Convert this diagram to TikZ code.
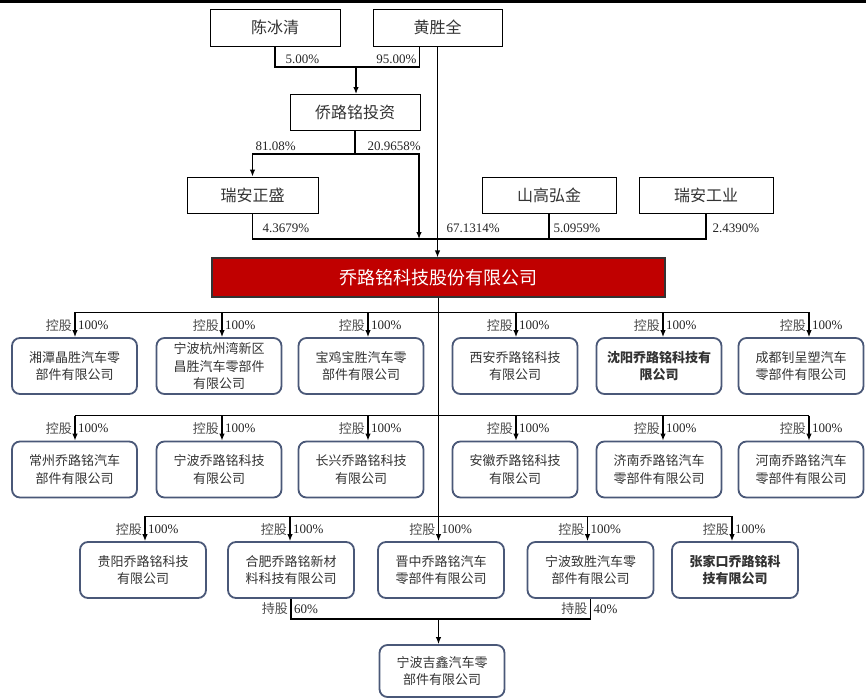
\documentclass[tikz,border=0pt]{standalone}
\usepackage{fontspec}
\setmainfont{Liberation Serif}
\newfontfamily\cjk{Noto Sans CJK SC}
\usetikzlibrary{arrows.meta,calc}
\definecolor{boxline}{HTML}{4A5878}
\definecolor{mainred}{HTML}{C00000}
\definecolor{txtgray}{HTML}{333333}

\begin{document}
\begin{tikzpicture}[x=1pt,y=-1pt,>={Latex[length=7pt,width=5.5pt]},line width=1.2pt,
        holder/.style={draw=black,line width=1pt,fill=white,minimum width=130pt,minimum height=37pt,
            font=\cjk\fontsize{16}{18}\selectfont,text=txtgray},
        mainbox/.style={draw=black!80,line width=1.2pt,fill=mainred,minimum width=453pt,minimum height=39pt,
            font=\cjk\fontsize{18}{20}\selectfont,text=white},
        subbox/.style={draw=boxline,line width=1.8pt,fill=white,rounded corners=8pt,minimum width=125pt,
            minimum height=56pt,align=center,font=\cjk\fontsize{13}{17.5}\selectfont,text=txtgray},
        pct/.style={inner sep=0pt,font=\fontsize{13}{15}\selectfont,text=black!85},
        cjklab/.style={inner sep=0pt,font=\cjk\fontsize{13}{15}\selectfont,text=black!70}]
        \fill [white] (0,0) rectangle (866,699);
        \useasboundingbox (0,0) rectangle (866,699);
        \fill [black] (0,0) rectangle (866,3);

        \node [holder] (chen) at (275,27.5) {陈冰清};
        \node [holder,minimum width=129pt] (huang) at (437.5,27.5) {黄胜全};
        \node [holder,minimum height=36pt] (qlm) at (355,112.5) {侨路铭投资};
        \node [holder,minimum width=131pt,minimum height=36pt] (razs) at (252.5,195) {瑞安正盛};
        \node [holder,minimum width=134pt,minimum height=36pt] (shgj) at (549,195) {山高弘金};
        \node [holder,minimum width=134pt,minimum height=36pt] (ragy) at (706,195) {瑞安工业};
        \node [mainbox] (main) at (438.5,277.5) {乔路铭科技股份有限公司};

        \coordinate (t1) at (356,67);
        \coordinate (t2) at (355,154);
        \coordinate (t3) at (419,239);
        \draw (chen.south) |- (t1) -| ([xshift=-18pt]huang.south);
        \draw [->] (t1) -- (t1 |- qlm.north);
        \draw (qlm.south) -- (t2);
        \draw [->] (t2) -| (razs.north);
        \draw [->] (t2) -| (t3);
        \draw (razs.south) |- (ragy.south |- t3) -- (ragy.south);
        \draw (shgj.south) -- (shgj.south |- t3);
        \draw [->] (huang.south) -- (huang.south |- main.north);

        \node [pct,anchor=west] (p1) at (285,59) {5.00\%};
        \node [pct,anchor=east] (p2) at (417,59) {95.00\%};
        \node [pct,anchor=west] (p3) at (255,146) {81.08\%};
        \node [pct,anchor=west] (p4) at (367,146) {20.9658\%};
        \node [pct,anchor=west] (p5) at (262,228) {4.3679\%};
        \node [pct,anchor=west] (p6) at (446,228) {67.1314\%};
        \node [pct,anchor=west] (p7) at (553,228) {5.0959\%};
        \node [pct,anchor=west] (p8) at (712,228) {2.4390\%};

        \node [subbox] (a1) at (74.5,366) {湘潭晶胜汽车零\\部件有限公司};
        \node [subbox] (a2) at (219,366) {宁波杭州湾新区\\昌胜汽车零部件\\有限公司};
        \node [subbox] (a3) at (361,366) {宝鸡宝胜汽车零\\部件有限公司};
        \node [subbox] (a4) at (515,366) {西安乔路铭科技\\有限公司};
        \node [subbox,font=\cjk\bfseries\fontsize{13}{17.5}\selectfont] (a5) at (659,366) {沈阳乔路铭科技有\\限公司};
        \node [subbox] (a6) at (801,366) {成都钊呈塑汽车\\零部件有限公司};

        \node [subbox] (b1) at (74.5,469.5) {常州乔路铭汽车\\部件有限公司};
        \node [subbox] (b2) at (219,469.5) {宁波乔路铭科技\\有限公司};
        \node [subbox] (b3) at (361,469.5) {长兴乔路铭科技\\有限公司};
        \node [subbox] (b4) at (515,469.5) {安徽乔路铭科技\\有限公司};
        \node [subbox] (b5) at (659,469.5) {济南乔路铭汽车\\零部件有限公司};
        \node [subbox] (b6) at (801,469.5) {河南乔路铭汽车\\零部件有限公司};

        \node [subbox,minimum width=126pt] (c1) at (143,570) {贵阳乔路铭科技\\有限公司};
        \node [subbox,minimum width=126pt] (c2) at (291,570) {合肥乔路铭新材\\料科技有限公司};
        \node [subbox,minimum width=126pt] (c3) at (441,570) {晋中乔路铭汽车\\零部件有限公司};
        \node [subbox,minimum width=126pt] (c4) at (590.5,570) {宁波致胜汽车零\\部件有限公司};
        \node [subbox,minimum width=126pt,font=\cjk\bfseries\fontsize{13}{17.5}\selectfont] (c5) at (735,570) {张家口乔路铭科\\技有限公司};
        \node [subbox,minimum height=52pt] (jx) at (442,671) {宁波吉鑫汽车零\\部件有限公司};

        \draw (main.south) -- ($(c3.north)+(-2.5,-25)$);
        \draw ($(a1.north)+(0.5,-25)$) -- ($(a6.north)+(8,-25)$);
        \draw ($(b1.north)+(0.5,-25)$) -- ($(b6.north)+(8,-25)$);
        \draw ($(c1.north)+(2,-25)$) -- ($(c5.north)+(-3,-25)$);
        \foreach \b/\dx in {a1/0.5,a2/3,a3/7,a4/1,a5/4,a6/8,b1/0.5,b2/3,b3/7,b4/1,b5/4,b6/8,c1/2,c2/-1,c3/-2.5,c4/-3,c5/-3} {
            \draw [->] ($(\b.north)+(\dx,-25)$) -- ($(\b.north)+(\dx,0)$);
            \node [cjklab,anchor=east] (\b-k) at ($(\b.north)+(\dx-2.5,-12)$) {控股};
            \node [pct,anchor=west] (\b-p) at ($(\b.north)+(\dx+2.5,-12)$) {100\%};
        }

        \coordinate (h1) at ($(c2.south)+(0,20)$);
        \draw (c2.south) -- (h1) -| (c4.south);
        \draw [->] (main.south |- h1) -- (main.south |- jx.north);
        \node [cjklab,anchor=east] (c2-hk) at ($(c2.south)+(-2.5,10)$) {持股};
        \node [pct,anchor=west] (c2-hp) at ($(c2.south)+(2.5,10)$) {60\%};
        \node [cjklab,anchor=east] (c4-hk) at ($(c4.south)+(-2.5,10)$) {持股};
        \node [pct,anchor=west] (c4-hp) at ($(c4.south)+(2.5,10)$) {40\%};
    \end{tikzpicture}
\end{document}
